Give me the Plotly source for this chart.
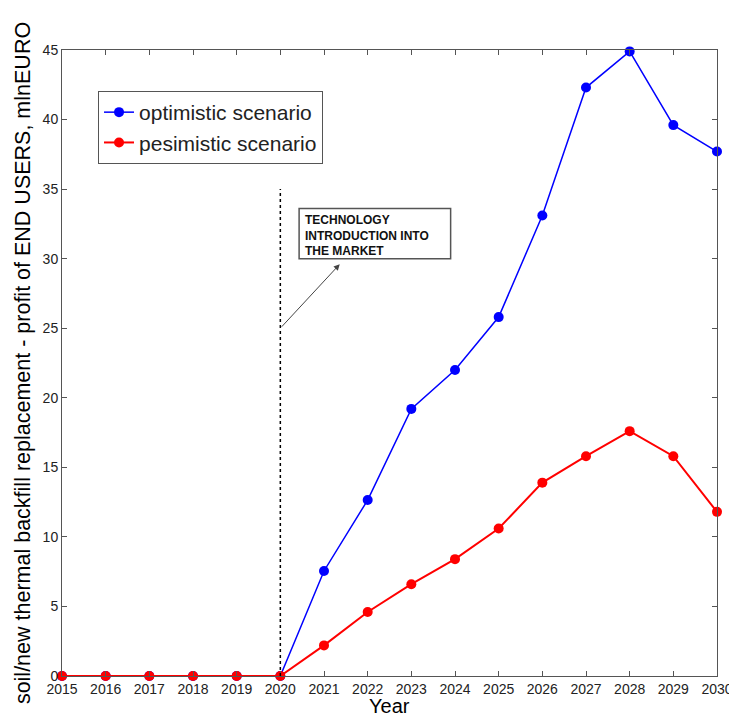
import plotly.graph_objects as go

years = list(range(2015, 2031))
optimistic = [0, 0, 0, 0, 0, 0, 7.55, 12.65, 19.2, 22.0, 25.8, 33.1, 42.3, 44.9, 39.6, 37.7]
pessimistic = [0, 0, 0, 0, 0, 0, 2.2, 4.6, 6.6, 8.4, 10.6, 13.9, 15.8, 17.6, 15.8, 11.8]
series_names = ["optimistic scenario", "pesimistic scenario"]
intro_year = 2020
annotation_text = "TECHNOLOGY<br>INTRODUCTION INTO<br>THE MARKET"
FONT = "Liberation Sans, Arial, sans-serif"

fig = go.Figure()
fig.add_trace(go.Scatter(x=years, y=optimistic, mode="lines+markers", name=series_names[0],
                         line=dict(color="#0000FF", width=1.5),
                         marker=dict(color="#0000FF", size=10), cliponaxis=False))
fig.add_trace(go.Scatter(x=years, y=pessimistic, mode="lines+markers", name=series_names[1],
                         line=dict(color="#FF0000", width=2),
                         marker=dict(color="#FF0000", size=10), cliponaxis=False))

# dashed vertical line
fig.add_shape(type="line", x0=intro_year, x1=intro_year, y0=0, y1=35,
              line=dict(color="black", width=1.5, dash="dot"))
# annotation box
fig.add_shape(type="rect", x0=2020.43, x1=2023.9, y0=30.0, y1=33.6,
              line=dict(color="#555555", width=1.5), fillcolor="white")
fig.add_annotation(x=2020.52, y=33.4, xanchor="left", yanchor="top", showarrow=False,
                   text="<b>" + annotation_text + "</b>", align="left",
                   font=dict(family=FONT, size=12, color="#111111"))
fig.add_annotation(x=2021.36, y=29.6, ax=intro_year, ay=25, xref="x", yref="y",
                   axref="x", ayref="y", showarrow=True, arrowhead=2, arrowsize=1.2,
                   arrowwidth=1, arrowcolor="#444444", text="")
# x axis title
fig.add_annotation(x=0.5, y=0, xref="paper", yref="paper", yanchor="top", yshift=-17,
                   showarrow=False, text="Year", font=dict(family=FONT, size=20, color="black"))

axis_common = dict(showline=True, linecolor="#555555", linewidth=1, mirror="ticks",
                   ticks="inside", ticklen=5, tickcolor="#555555", showgrid=False,
                   zeroline=False, tickfont=dict(family=FONT, size=14, color="#222222"))

fig.update_xaxes(range=[2015, 2030], tickvals=years, ticktext=[str(y) for y in years],
                 **axis_common)
fig.update_yaxes(range=[0, 45], tickvals=list(range(0, 46, 5)),
                 title=dict(text="soil/new thermal backfill replacement - profit of END USERS, mlnEURO",
                            font=dict(size=21.5, family=FONT, color="black"), standoff=6),
                 **axis_common)

# page body adds an 8px offset, so the figure is sized to fit the 737x717 window
fig.update_layout(
    width=729, height=709,
    margin=dict(l=54, r=20, t=42, b=41, autoexpand=False),
    plot_bgcolor="white", paper_bgcolor="white",
    legend=dict(x=0.055, y=0.9345, xanchor="left", yanchor="top",
                bordercolor="#555555", borderwidth=1, bgcolor="white",
                font=dict(family=FONT, size=21, color="#222222"),
                tracegroupgap=0, itemwidth=30),
    showlegend=True,
)

fig.write_html("out.html")
